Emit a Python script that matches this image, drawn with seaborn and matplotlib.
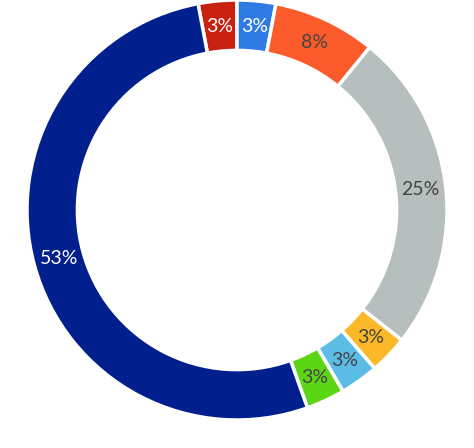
import matplotlib
matplotlib.use("Agg")
import matplotlib.pyplot as plt
import seaborn as sns

sns.set_theme(style="white")
plt.rcParams['font.family'] = ['Lato', 'DejaVu Sans']

values = [3, 3, 8, 25, 3, 3, 3, 53]
labels = ["3%", "3%", "8%", "25%", "3%", "3%", "3%", "53%"]
colors = ["#c9210f", "#2f7be6", "#fb5b2a", "#b6bfbe", "#fbb927", "#5bbde6", "#5ad614", "#021f8e"]
text_colors = ["white", "white", "#444444", "#444444", "#444444", "#444444", "#444444", "white"]

fig = plt.figure(figsize=(4.74, 4.48), dpi=100)
ax = fig.add_axes([27/474, 28/448, 420/474, 420/448])
total = sum(values)
wedges, texts = ax.pie(values, colors=colors, startangle=90 + 360 * 3 / total,
                       counterclock=False, radius=1,
                       wedgeprops=dict(width=0.24, edgecolor="white", linewidth=2.5),
                       labels=labels, labeldistance=0.88)
for t, c in zip(texts, text_colors):
    t.set_color(c)
    t.set_fontsize(14)
    t.set_ha("center")
    t.set_va("center")
ax.set_xlim(-1, 1)
ax.set_ylim(-1, 1)
ax.set_aspect("equal")
ax.axis("off")
fig.savefig("out.png", dpi=100)
